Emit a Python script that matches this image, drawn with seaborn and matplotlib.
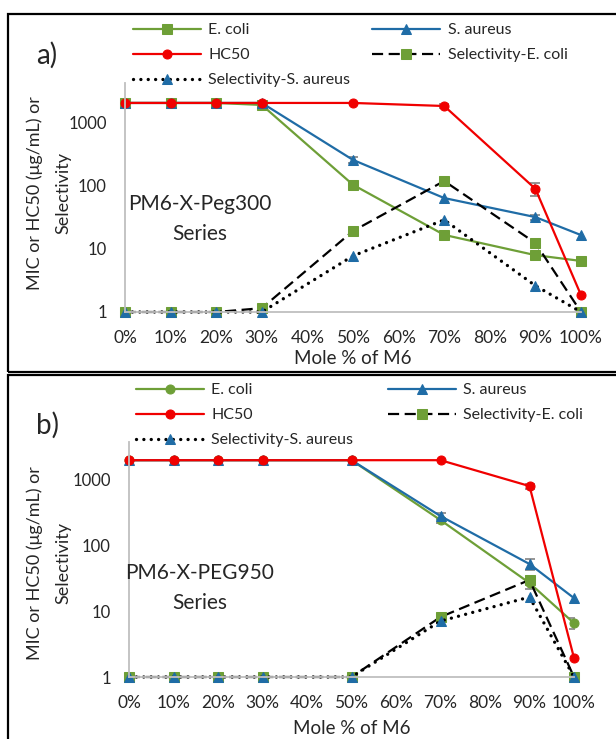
import numpy as np
import pandas as pd
import matplotlib.pyplot as plt
import seaborn as sns
from matplotlib.patches import Rectangle

mole = [0, 10, 20, 30, 50, 70, 90, 100]
xticks = [0, 10, 20, 30, 40, 50, 60, 70, 80, 90, 100]
xtick_labels = ["0%", "10%", "20%", "30%", "40%", "50%", "60%", "70%", "80%", "90%", "100%"]
yticks = [1, 10, 100, 1000]
ytick_labels = ["1", "10", "100", "1000"]

# a) PM6-X-Peg300 series
a_ecoli = [2000, 2000, 2000, 1860, 102, 16.5, 7.9, 6.4]
a_saureus = [2000, 2000, 2000, 2000, 252, 63, 31.5, 16.4]
a_hc50 = [2000, 2000, 2000, 2000, 2000, 1790, 88, 1.85]
a_sel_ecoli = [1, 1, 1, 1.15, 19, 117, 12.3, 1]
a_sel_saureus = [1, 1, 1, 1, 7.7, 28.5, 2.6, 1]
# error bars (x, y, +/-)
a_err_x = [50, 50, 70, 90, 90, 90, 100]
a_err_y = [102, 252, 1790, 88, 31.5, 7.9, 6.4]
a_err = [10, 25, 150, 20, 3, 0.8, 0.7]

# b) PM6-X-PEG950 series
b_ecoli = [2000, 2000, 2000, 2000, 2000, 245, 27, 6.6]
b_saureus = [2000, 2000, 2000, 2000, 2000, 282, 52.5, 15.9]
b_hc50 = [2000, 2000, 2000, 2000, 2000, 2000, 807, 1.95]
b_sel_ecoli = [1, 1, 1, 1, 1, 8.2, 30, 1]
b_sel_saureus = [1, 1, 1, 1, 1, 7.1, 16.5, 1]
b_err_x = [70, 70, 90, 90, 90, 100]
b_err_y = [245, 282, 807, 52.5, 27, 6.6]
b_err = [20, 30, 70, 10, 5, 1.2]

green = "#6E9F37"
blue = "#1F6CA6"
red = "#F00000"

sns.set_style("white")
plt.rcParams["font.family"] = ["Lato", "DejaVu Sans"]

W, H = 616, 739
fig = plt.figure(figsize=(W / 100, H / 100), dpi=100)


def fx(x):
    return x / W


def fy(y):
    return 1 - y / H


def panel(ax, ecoli, saureus, hc50, sel_e, sel_s, ecoli_marker, err_x, err_y, err, ytop):
    ax.set_yscale("log")
    sns.lineplot(x=mole, y=ecoli, color=green, marker=ecoli_marker, markeredgecolor=green,
                 markersize=6.5, linewidth=1.6, clip_on=False, label="E. coli", ax=ax)
    sns.lineplot(x=mole, y=saureus, color=blue, marker="^", markeredgecolor=blue,
                 markersize=7.5, linewidth=1.6, clip_on=False, label="S. aureus", ax=ax)
    sns.lineplot(x=mole, y=hc50, color=red, marker="o", markeredgecolor=red,
                 markersize=6.5, linewidth=1.6, clip_on=False, label="HC50", ax=ax)
    sns.lineplot(x=mole, y=sel_e, color="black", linestyle=(0, (5, 2.5)), marker="s",
                 markerfacecolor=green, markeredgecolor=green, markersize=6.5,
                 linewidth=1.6, clip_on=False, label="Selectivity-E. coli", ax=ax)
    sns.lineplot(x=mole, y=sel_s, color="black", linestyle=(0, (0.01, 2.2)),
                 dash_capstyle="round", marker="^", markerfacecolor=blue,
                 markeredgecolor=blue, markersize=7.5, linewidth=2.4, clip_on=False,
                 label="Selectivity-S. aureus", ax=ax)
    lines = list(ax.get_lines())
    ax.errorbar(err_x, err_y, yerr=err, fmt="none", ecolor="#8C8C8C",
                elinewidth=1.3, capsize=3.5, capthick=1.3, zorder=1)
    if ax.get_legend() is not None:
        ax.get_legend().remove()
    ax.set_xlim(0, 100)
    ax.set_ylim(1, ytop)
    ax.set_xticks(xticks)
    ax.set_xticklabels(xtick_labels)
    ax.set_yticks(yticks)
    ax.set_yticklabels(ytick_labels)
    ax.minorticks_off()
    ax.tick_params(axis="both", length=0, labelsize=12.5)
    ax.tick_params(axis="y", labelsize=12, pad=13)
    ax.tick_params(axis="x", pad=13)
    for s in ["top", "right"]:
        ax.spines[s].set_visible(False)
    for s in ["left", "bottom"]:
        ax.spines[s].set_color("#BFBFBF")
        ax.spines[s].set_linewidth(1.3)
    ax.set_xlabel("")
    ax.set_ylabel("")
    return lines


def add_legend(lines, left_px, top_px, colspace):
    order = [0, 2, 4, 1, 3]
    handles = [lines[i] for i in order]
    labels = [h.get_label() for h in handles]
    fig.legend(handles, labels, ncol=2, loc="upper left", frameon=False,
               bbox_to_anchor=(fx(left_px), fy(top_px)), bbox_transform=fig.transFigure,
               fontsize=11.5, handlelength=4.25, handletextpad=0.45, columnspacing=colspace,
               labelspacing=0.68, borderpad=0, borderaxespad=0)


# panel borders
fig.patches.append(Rectangle((fx(8), fy(372)), fx(620) - fx(8), fy(14) - fy(372),
                             transform=fig.transFigure, fill=False, edgecolor="black",
                             linewidth=1.6, zorder=0))
fig.patches.append(Rectangle((fx(8), fy(745)), fx(620) - fx(8), fy(375) - fy(745),
                             transform=fig.transFigure, fill=False, edgecolor="black",
                             linewidth=1.6, zorder=0))

ax_a = fig.add_axes([fx(125), fy(312), fx(581) - fx(125), fy(83) - fy(312)])
lines_a = panel(ax_a, a_ecoli, a_saureus, a_hc50, a_sel_ecoli, a_sel_saureus, "s",
                a_err_x, a_err_y, a_err, 10 ** 3.616)
add_legend(lines_a, 133, 23, 1.4)

ax_b = fig.add_axes([fx(129), fy(677), fx(574) - fx(129), fy(442) - fy(677)])
lines_b = panel(ax_b, b_ecoli, b_saureus, b_hc50, b_sel_ecoli, b_sel_saureus, "o",
                b_err_x, b_err_y, b_err, 10 ** 3.578)
add_legend(lines_b, 136, 383, 2.2)

# texts
for yc in [193, 563]:
    fig.text(fx(35), fy(yc), "MIC or HC50 (\u03bcg/mL) or", rotation=90,
             ha="center", va="center", fontsize=13)
    fig.text(fx(63), fy(yc), "Selectivity", rotation=90,
             ha="center", va="center", fontsize=13)
fig.text(fx(353), fy(358), "Mole % of M6", ha="center", va="center", fontsize=13.5)
fig.text(fx(352), fy(728), "Mole % of M6", ha="center", va="center", fontsize=13.5)
fig.text(fx(47), fy(55), "a)", ha="center", va="center", fontsize=20)
fig.text(fx(47), fy(425), "b)", ha="center", va="center", fontsize=20)
fig.text(fx(200), fy(219), "PM6-X-Peg300\nSeries", ha="center", va="center",
         multialignment="center", fontsize=15, linespacing=1.6)
fig.text(fx(200), fy(588), "PM6-X-PEG950\nSeries", ha="center", va="center",
         multialignment="center", fontsize=15, linespacing=1.6)

plt.savefig("out.png", dpi=100)
